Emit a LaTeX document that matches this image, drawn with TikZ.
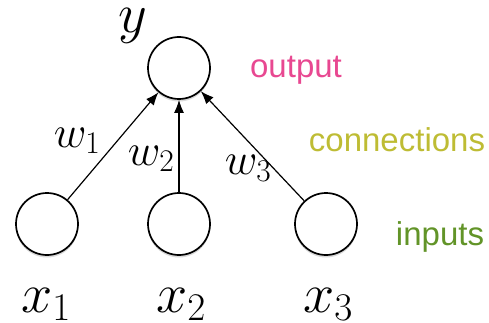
\RequirePackage{fix-cm}
\documentclass[tikz,border=0pt]{standalone}
\usepackage{fontspec}
\setsansfont{Liberation Sans}
\usepackage{tikz}
\usetikzlibrary{arrows.meta,shadows}
\definecolor{outc}{RGB}{232,72,145}
\definecolor{conc}{RGB}{190,188,52}
\definecolor{inc}{RGB}{98,148,40}
\tikzset{
  neuron/.style={draw, line width=1.7pt, circle, fill=white, minimum size=62pt, inner sep=0pt,
    drop shadow={shadow xshift=0pt, shadow yshift=-2.5pt, opacity=0.25, fill=black!60}},
  link/.style={draw, line width=1.2pt, -{Latex[length=13pt,width=10pt]}},
  % labels
  xlbl/.style={anchor=base, inner sep=0pt, font=\fontsize{56}{60}\selectfont},
  wlbl/.style={anchor=base, inner sep=0pt, font=\fontsize{45}{50}\selectfont},
  tag/.style={anchor=base, inner sep=0pt, font=\sffamily\fontsize{33}{36}\selectfont}
}
\begin{document}
\begin{tikzpicture}[x=1pt, y=-1pt]
    \useasboundingbox (0,0) rectangle (489,323);
    \node[neuron] (y) at (179,68) {};
    \node[neuron] (x1) at (47,224) {};
    \node[neuron] (x2) at (179,224) {};
    \node[neuron] (x3) at (326,224) {};
    \draw[link] (x1) -- (y);
    \draw[link] (x2) -- (y);
    \draw[link] (x3) -- (y);
    \node[xlbl] (ylab) at (133,33) {$y$};
    \node[xlbl] (x1lab) at (46,312) {$x_1$};
    \node[xlbl] (x2lab) at (181,312) {$x_2$};
    \node[xlbl] (x3lab) at (328,312) {$x_3$};
    \node[wlbl] (w1) at (77,147) {$w_1$};
    \node[wlbl] (w2) at (151,165) {$w_2$};
    \node[wlbl] (w3) at (248,175) {$w_3$};
    \node[tag, text=outc] (outtag) at (296,78) {output};
    \node[tag, text=conc] (contag) at (397,152) {connections};
    \node[tag, text=inc] (intag) at (440,245) {inputs};
  \end{tikzpicture}
\end{document}
